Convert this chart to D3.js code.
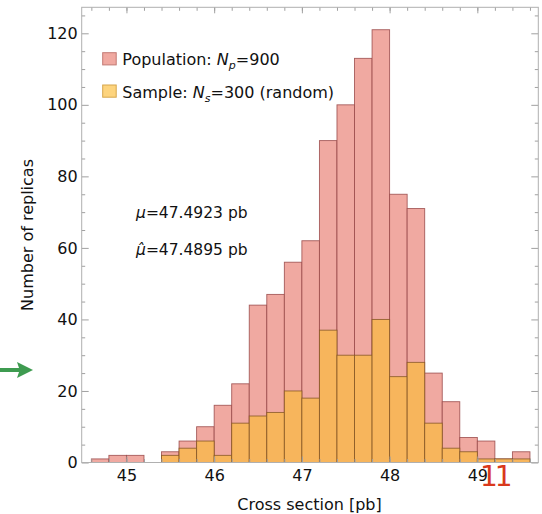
<!DOCTYPE html>
<html><head><meta charset="utf-8">
<script src="https://cdn.jsdelivr.net/npm/d3@7"></script>
<style>
body{margin:0;background:#fff}
svg{display:block}
text{font-family:"DejaVu Sans",sans-serif;fill:#111}
</style>
</head><body>
<svg id="c" width="542" height="514"></svg>
<script>
// ---- data ----
const binStarts = [44.6,44.8,45.0,45.2,45.4,45.6,45.8,46.0,46.2,46.4,46.6,46.8,47.0,47.2,47.4,47.6,47.8,48.0,48.2,48.4,48.6,48.8,49.0,49.2,49.4];
const binWidth = 0.2;
const population = [1,2,2,0,3,6,10,16,22,44,47,56,62,90,100,113,121,75,71,25,17,7,6,1,3];
const sample     = [0,0,0,0,2,4,6,2,11,13,14,20,18,37,30,30,40,24,28,11,4,3,1,1,1];
const xTicks = [45,46,47,48,49];
const xMinorTicks = [44.6,44.8,45.0,45.2,45.4,45.6,45.8,46.0,46.2,46.4,46.6,46.8,47.0,47.2,47.4,47.6,47.8,48.0,48.2,48.4,48.6,48.8,49.0,49.2,49.4,49.6];
const yTicks = [0,20,40,60,80,100,120];
const yMinorTicks = [5,10,15,25,30,35,45,50,55,65,70,75,85,90,95,105,110,115,125];
const legendLabels = [
  {name:"Population: ", sym:"N", sub:"p", rest:"=900"},
  {name:"Sample: ", sym:"N", sub:"s", rest:"=300 (random)"}
];
const statLines = [
  {sym:"\u03BC", rest:"=47.4923 pb"},
  {sym:"\u03BC\u0302", rest:"=47.4895 pb"}
];
const xTitle = "Cross section [pb]";
const yTitle = "Number of replicas";

// ---- layout ----
const L = 81.7, R = 538.3, T = 7.3, B = 462.5;
const svg = d3.select("#c");
const x = d3.scaleLinear().domain([44.49, 49.695]).range([L, R]);
const y = d3.scaleLinear().domain([0, 127.27]).range([B, T]);

const popFill = "#F0A9A1", popStroke = "rgba(150,70,70,0.85)";
const smpFill = "#F7B55C", smpStroke = "rgba(130,85,35,0.85)";

// bars
const bins = binStarts.map((s,i)=>({x0:s, x1:s+binWidth, p:population[i], s:sample[i]}));
svg.append("g").selectAll("rect").data(bins.filter(d=>d.p>0)).join("rect")
  .attr("x", d=>x(d.x0)).attr("width", d=>x(d.x1)-x(d.x0))
  .attr("y", d=>y(d.p)).attr("height", d=>y(0)-y(d.p))
  .attr("fill", popFill).attr("stroke", popStroke).attr("stroke-width", 0.9);
svg.append("g").selectAll("rect").data(bins.filter(d=>d.s>0)).join("rect")
  .attr("x", d=>x(d.x0)).attr("width", d=>x(d.x1)-x(d.x0))
  .attr("y", d=>y(d.s)).attr("height", d=>y(0)-y(d.s))
  .attr("fill", smpFill).attr("stroke", smpStroke).attr("stroke-width", 0.9);

// axes / frame ticks
function styleAxis(g){
  g.select(".domain").remove();
  g.selectAll(".tick line").attr("stroke","#a0a0a0");
  g.selectAll(".tick text").attr("font-family","DejaVu Sans").attr("font-size",16).attr("fill","#111");
}
svg.append("g").attr("transform",`translate(${L},0)`)
  .call(d3.axisLeft(y).tickValues(yTicks).tickSize(-7).tickPadding(4)).call(styleAxis);
svg.append("g").attr("transform",`translate(${L},0)`)
  .call(d3.axisLeft(y).tickValues(yMinorTicks).tickSize(-3.5).tickFormat("")).call(styleAxis);
svg.append("g").attr("transform",`translate(${R},0)`)
  .call(d3.axisRight(y).tickValues(yTicks).tickSize(-7).tickFormat("")).call(styleAxis);
svg.append("g").attr("transform",`translate(${R},0)`)
  .call(d3.axisRight(y).tickValues(yMinorTicks).tickSize(-3.5).tickFormat("")).call(styleAxis);
svg.append("g").attr("transform",`translate(0,${B})`)
  .call(d3.axisBottom(x).tickValues(xTicks).tickSize(-6).tickPadding(7.5).tickFormat(d3.format("d"))).call(styleAxis);
svg.append("g").attr("transform",`translate(0,${B})`)
  .call(d3.axisBottom(x).tickValues(xMinorTicks).tickSize(-3.5).tickFormat("")).call(styleAxis);
svg.append("g").attr("transform",`translate(0,${T})`)
  .call(d3.axisTop(x).tickValues(xTicks).tickSize(-6).tickFormat("")).call(styleAxis);
svg.append("g").attr("transform",`translate(0,${T})`)
  .call(d3.axisTop(x).tickValues(xMinorTicks).tickSize(-3.5).tickFormat("")).call(styleAxis);

svg.append("rect").attr("x",L).attr("y",T).attr("width",R-L).attr("height",B-T)
  .attr("fill","none").attr("stroke","#b0b0b0").attr("stroke-width",1);

// axis titles
svg.append("text").attr("x",309.5).attr("y",510).attr("text-anchor","middle")
  .attr("font-size",16).text(xTitle);
svg.append("text").attr("transform","translate(33,235) rotate(-90)").attr("text-anchor","middle")
  .attr("font-size",16).text(yTitle);

// legend
const swFill = [popFill, "#FDD47E"], swStroke = ["#C27A74", "#D6A64C"];
const lg = svg.append("g");
legendLabels.forEach((d,i)=>{
  const yy = 52.7 + i*32.3;
  lg.append("rect").attr("x",102.7).attr("y",yy).attr("width",13.5).attr("height",12.2)
    .attr("fill",swFill[i]).attr("stroke",swStroke[i]).attr("stroke-width",1);
  const t = lg.append("text").attr("x",122.3).attr("y",yy+12.6).attr("font-size",16);
  t.append("tspan").text(d.name);
  t.append("tspan").attr("font-style","italic").text(d.sym);
  t.append("tspan").attr("font-style","italic").attr("font-size",11).attr("dy",4).text(d.sub);
  t.append("tspan").attr("dy",-4).text(d.rest);
});

// statistics text
statLines.forEach((d,i)=>{
  const t = svg.append("text").attr("x",136).attr("y",218.3 + i*36.7).attr("font-size",15.5);
  t.append("tspan").attr("font-style","italic").text(d.sym);
  t.append("tspan").text(d.rest);
});

// annotations present in the reference image
svg.append("path")
  .attr("d","M0,368 L19,368 L17,362 L33,370 L17,378 L19,372 L0,372 Z")
  .attr("fill","#3E9B50");
svg.append("text").attr("x",480).attr("y",486).attr("font-family","Liberation Sans")
  .attr("font-size",28).attr("letter-spacing",-3).style("fill","#D9391C").text("11");
</script>
</body></html>
